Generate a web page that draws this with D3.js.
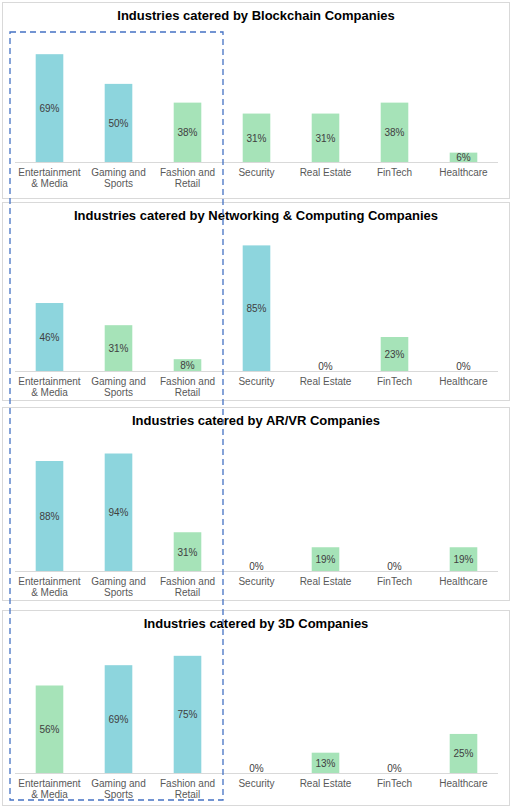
<!DOCTYPE html>
<html><head><meta charset="utf-8">
<script src="https://cdn.jsdelivr.net/npm/d3@7"></script>
<style>body{margin:0;background:#fff}</style>
</head><body>
<script>
const categories = ["Entertainment & Media", "Gaming and Sports", "Fashion and Retail", "Security", "Real Estate", "FinTech", "Healthcare"];
const catLines = [["Entertainment", "& Media"], ["Gaming and", "Sports"], ["Fashion and", "Retail"], ["Security"], ["Real Estate"], ["FinTech"], ["Healthcare"]];
const titles = ["Industries catered by Blockchain Companies", "Industries catered by Networking & Computing Companies", "Industries catered by AR/VR Companies", "Industries catered by 3D Companies"];
const blockchain = [69, 50, 38, 31, 31, 38, 6];
const networking = [46, 31, 8, 85, 0, 23, 0];
const arvr = [88, 94, 31, 0, 19, 0, 19];
const threeD = [56, 69, 75, 0, 13, 0, 25];
// which bars are highlighted (teal) vs green
const highlight = [
  [1, 1, 0, 0, 0, 0, 0],
  [1, 0, 0, 1, 0, 0, 0],
  [1, 1, 0, 0, 0, 0, 0],
  [0, 1, 1, 0, 0, 0, 0]
];
const yMax = [80, 90, 100, 80];

const series = [blockchain, networking, arvr, threeD];
const panels = [{top: 2, bottom: 198, base: 162, h: 125}, {top: 202, bottom: 400, base: 371, h: 133},
                {top: 407, bottom: 600, base: 571, h: 125}, {top: 610, bottom: 805, base: 773, h: 125}];

const svg = d3.select("body").append("svg").attr("width", 512).attr("height", 808)
  .style("font-family", "'Liberation Sans', Arial, sans-serif");

const x = d3.scaleBand().domain(categories).range([15, 498]).paddingInner(0.6).paddingOuter(0.3);

panels.forEach((p, i) => {
  const g = svg.append("g");
  g.append("rect").attr("x", 2.5).attr("y", p.top + 0.5).attr("width", 507).attr("height", p.bottom - p.top)
    .attr("fill", "#fff").attr("stroke", "#d9d9d9");
  g.append("text").attr("x", 256).attr("y", p.top + 18).attr("text-anchor", "middle")
    .attr("font-size", 13).attr("font-weight", "bold").attr("fill", "#000").text(titles[i]);
  const y = d3.scaleLinear().domain([0, yMax[i]]).range([p.base, p.base - p.h]);
  const data = series[i].map((v, j) => ({c: categories[j], v, hl: highlight[i][j], lines: catLines[j]}));
  g.selectAll(".bar").data(data).join("rect")
    .attr("x", d => x(d.c)).attr("width", x.bandwidth())
    .attr("y", d => y(d.v)).attr("height", d => y(0) - y(d.v))
    .attr("fill", d => d.hl ? "#8dd5dd" : "#a6e3b8");
  g.append("line").attr("x1", 15).attr("x2", 498).attr("y1", p.base + 0.5).attr("y2", p.base + 0.5)
    .attr("stroke", "#d9d9d9");
  g.selectAll(".val").data(data).join("text")
    .attr("x", d => x(d.c) + x.bandwidth() / 2)
    .attr("y", d => Math.min((y(d.v) + y(0)) / 2, p.base - 5) + 4)
    .attr("text-anchor", "middle").attr("font-size", 10).attr("fill", "#404040").text(d => d.v + "%");
  data.forEach(d => {
    d.lines.forEach((t, k) => {
      g.append("text").attr("x", x(d.c) + x.bandwidth() / 2).attr("y", p.base + 14 + k * 11)
        .attr("text-anchor", "middle").attr("font-size", 10).attr("fill", "#595959").text(t);
    });
  });
});

svg.append("rect").attr("x", 10).attr("y", 32).attr("width", 213).attr("height", 768)
  .attr("fill", "none").attr("stroke", "#4472c4").attr("stroke-width", 1.3).attr("stroke-dasharray", "6,4");
</script>
</body></html>
